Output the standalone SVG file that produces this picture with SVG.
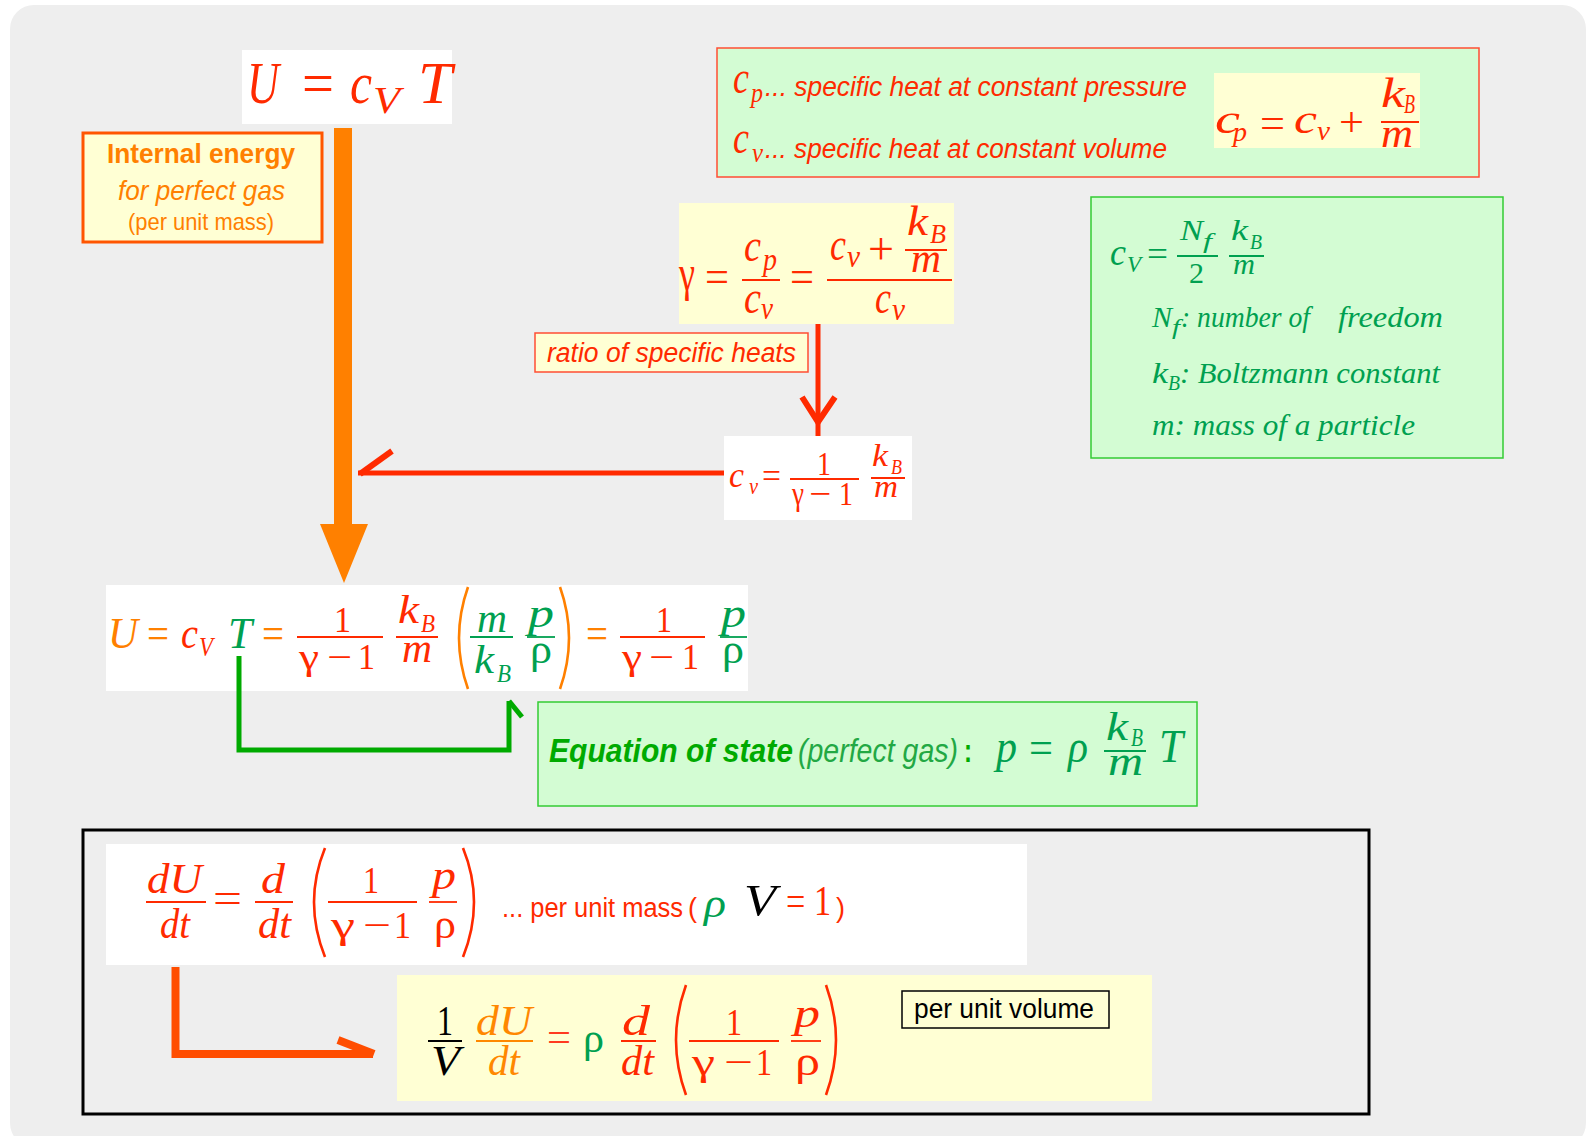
<svg xmlns="http://www.w3.org/2000/svg" width="1588" height="1136" viewBox="0 0 1588 1136">
<style>
.ser{font-family:"Times New Roman","Liberation Serif",Tinos,"Nimbus Roman",serif}
.it{font-style:italic}
.san{font-family:"Liberation Sans Narrow","Arial Narrow","Liberation Sans",Arial,sans-serif}
.r{fill:#ff2a00}.o{fill:#ff8000}.g{fill:#00a050}.gb{fill:#00aa00}.k{fill:#000}.o2{fill:#ff8800}
.yel{fill:#ffffd4}.grn{fill:#d3fcd3}.wht{fill:#fff}
.bar{stroke-width:1.8;fill:none}
.sr{stroke:#ff2a00}.so{stroke:#ff8000}.sg{stroke:#00a050}.sk{stroke:#000}.so2{stroke:#ff8800}
.par{fill:none;stroke-width:2.6}
</style>
<rect x="10" y="5" width="1576" height="1142" rx="24" fill="#eeeeee"/>

<g id="n-u-top">
  <rect x="242" y="50" width="210" height="74" class="wht"/>
  <text x="247" y="103" font-size="60" class="ser it r" textLength="32" lengthAdjust="spacingAndGlyphs">U</text>
  <text x="302" y="103" font-size="60" class="ser r" textLength="32" lengthAdjust="spacingAndGlyphs">=</text>
  <text x="350" y="103" font-size="60" class="ser it r" textLength="22" lengthAdjust="spacingAndGlyphs">c</text>
  <text x="373" y="113" font-size="38" class="ser it r" textLength="27" lengthAdjust="spacingAndGlyphs">V</text>
  <text x="418" y="103" font-size="60" class="ser it r" textLength="34" lengthAdjust="spacingAndGlyphs">T</text>
</g>

<g id="n-internal-energy">
  <rect x="83" y="133" width="239" height="109" class="yel" stroke="#ff5500" stroke-width="3"/>
  <text x="107" y="163" font-size="28" font-weight="bold" class="san o" textLength="188" lengthAdjust="spacingAndGlyphs">Internal energy</text>
  <text x="118" y="200" font-size="28" class="san it o" textLength="167" lengthAdjust="spacingAndGlyphs">for perfect gas</text>
  <text x="128" y="230" font-size="24" class="san o" textLength="146" lengthAdjust="spacingAndGlyphs">(per unit mass)</text>
</g>

<g id="n-cp-cv">
  <rect x="717" y="48" width="762" height="129" class="grn" stroke="#ff4d33" stroke-width="1.5"/>
  <text x="733" y="93" font-size="46" class="ser it r" textLength="16" lengthAdjust="spacingAndGlyphs">c</text>
  <text x="751" y="102" font-size="28" class="ser it r" textLength="12" lengthAdjust="spacingAndGlyphs">p</text>
  <text x="765" y="96" font-size="27" class="san it r" textLength="422" lengthAdjust="spacingAndGlyphs">... specific heat at constant pressure</text>
  <text x="733" y="153" font-size="46" class="ser it r" textLength="16" lengthAdjust="spacingAndGlyphs">c</text>
  <text x="752" y="162" font-size="28" class="ser it r" textLength="11" lengthAdjust="spacingAndGlyphs">v</text>
  <text x="765" y="158" font-size="27" class="san it r" textLength="402" lengthAdjust="spacingAndGlyphs">... specific heat at constant volume</text>
  <rect x="1214" y="73" width="206" height="75" class="yel"/>
  <text x="1215" y="133" font-size="42" class="ser it r" textLength="25" lengthAdjust="spacingAndGlyphs">c</text>
  <text x="1233" y="141" font-size="28" class="ser it r" textLength="14" lengthAdjust="spacingAndGlyphs">p</text>
  <text x="1260" y="137" font-size="42" class="ser r" textLength="25" lengthAdjust="spacingAndGlyphs">=</text>
  <text x="1294" y="133" font-size="42" class="ser it r" textLength="23" lengthAdjust="spacingAndGlyphs">c</text>
  <text x="1317" y="140" font-size="28" class="ser it r" textLength="13" lengthAdjust="spacingAndGlyphs">v</text>
  <text x="1339" y="136" font-size="42" class="ser r" textLength="25" lengthAdjust="spacingAndGlyphs">+</text>
  <line x1="1381" y1="122" x2="1419" y2="122" class="bar sr"/>
  <text x="1381" y="107" font-size="42" class="ser it r" textLength="24" lengthAdjust="spacingAndGlyphs">k</text>
  <text x="1404" y="113" font-size="28" class="ser it r" textLength="11" lengthAdjust="spacingAndGlyphs">B</text>
  <text x="1381" y="147" font-size="42" class="ser it r" textLength="32" lengthAdjust="spacingAndGlyphs">m</text>
</g>

<g id="n-gamma">
  <rect x="679" y="203" width="275" height="121" class="yel"/>
  <text x="679" y="290" font-size="50" class="ser r" textLength="16" lengthAdjust="spacingAndGlyphs">γ</text>
  <text x="705" y="292" font-size="46" class="ser r" textLength="24" lengthAdjust="spacingAndGlyphs">=</text>
  <text x="744" y="261" font-size="46" class="ser it r" textLength="17" lengthAdjust="spacingAndGlyphs">c</text>
  <text x="763" y="270" font-size="32" class="ser it r" textLength="14" lengthAdjust="spacingAndGlyphs">p</text>
  <line x1="742" y1="280" x2="780" y2="280" class="bar sr"/>
  <text x="744" y="313" font-size="46" class="ser it r" textLength="17" lengthAdjust="spacingAndGlyphs">c</text>
  <text x="761" y="319" font-size="32" class="ser it r" textLength="12" lengthAdjust="spacingAndGlyphs">v</text>
  <text x="790" y="292" font-size="46" class="ser r" textLength="24" lengthAdjust="spacingAndGlyphs">=</text>
  <line x1="827" y1="280" x2="952" y2="280" class="bar sr"/>
  <text x="830" y="260" font-size="46" class="ser it r" textLength="16" lengthAdjust="spacingAndGlyphs">c</text>
  <text x="847" y="267" font-size="32" class="ser it r" textLength="13" lengthAdjust="spacingAndGlyphs">v</text>
  <text x="868" y="264" font-size="46" class="ser r" textLength="26" lengthAdjust="spacingAndGlyphs">+</text>
  <line x1="905" y1="250" x2="947" y2="250" class="bar sr"/>
  <text x="907" y="235" font-size="42" class="ser it r" textLength="21" lengthAdjust="spacingAndGlyphs">k</text>
  <text x="930" y="243" font-size="28" class="ser it r" textLength="16" lengthAdjust="spacingAndGlyphs">B</text>
  <text x="911" y="272" font-size="42" class="ser it r" textLength="30" lengthAdjust="spacingAndGlyphs">m</text>
  <text x="875" y="313" font-size="46" class="ser it r" textLength="16" lengthAdjust="spacingAndGlyphs">c</text>
  <text x="892" y="320" font-size="32" class="ser it r" textLength="13" lengthAdjust="spacingAndGlyphs">v</text>
</g>

<g id="n-ratio-label">
  <rect x="535" y="333" width="273" height="39" class="yel" stroke="#ff4d33" stroke-width="1.5"/>
  <text x="547" y="362" font-size="27" class="san it r" textLength="249" lengthAdjust="spacingAndGlyphs">ratio of specific heats</text>
</g>

<g id="n-cv-gamma">
  <rect x="724" y="436" width="188" height="84" class="wht"/>
  <text x="729" y="487" font-size="36" class="ser it r" textLength="15" lengthAdjust="spacingAndGlyphs">c</text>
  <text x="749" y="494" font-size="24" class="ser it r" textLength="9" lengthAdjust="spacingAndGlyphs">v</text>
  <text x="762" y="488" font-size="36" class="ser r" textLength="19" lengthAdjust="spacingAndGlyphs">=</text>
  <line x1="790" y1="479" x2="859" y2="479" class="bar sr"/>
  <text x="817" y="475" font-size="34" class="ser r" textLength="14" lengthAdjust="spacingAndGlyphs">1</text>
  <text x="792" y="505" font-size="34" class="ser r" textLength="12" lengthAdjust="spacingAndGlyphs">γ</text>
  <text x="809" y="505" font-size="34" class="ser r" textLength="22" lengthAdjust="spacingAndGlyphs">−</text>
  <text x="839" y="505" font-size="34" class="ser r" textLength="14" lengthAdjust="spacingAndGlyphs">1</text>
  <line x1="871" y1="478" x2="905" y2="478" class="bar sr"/>
  <text x="872" y="466" font-size="32" class="ser it r" textLength="16" lengthAdjust="spacingAndGlyphs">k</text>
  <text x="891" y="474" font-size="22" class="ser it r" textLength="11" lengthAdjust="spacingAndGlyphs">B</text>
  <text x="874" y="497" font-size="32" class="ser it r" textLength="24" lengthAdjust="spacingAndGlyphs">m</text>
</g>

<g id="n-cv-nf">
  <rect x="1091" y="197" width="412" height="261" class="grn" stroke="#33cc33" stroke-width="1.5"/>
  <text x="1110" y="265" font-size="38" class="ser it g" textLength="16" lengthAdjust="spacingAndGlyphs">c</text>
  <text x="1127" y="272" font-size="24" class="ser it g" textLength="14" lengthAdjust="spacingAndGlyphs">V</text>
  <text x="1147" y="266" font-size="36" class="ser g" textLength="21" lengthAdjust="spacingAndGlyphs">=</text>
  <line x1="1177" y1="256" x2="1218" y2="256" class="bar sg"/>
  <text x="1180" y="240" font-size="30" class="ser it g" textLength="23" lengthAdjust="spacingAndGlyphs">N</text>
  <text x="1203" y="248" font-size="20" class="ser it g" textLength="9" lengthAdjust="spacingAndGlyphs">f</text>
  <text x="1189" y="283" font-size="30" class="ser g" textLength="15" lengthAdjust="spacingAndGlyphs">2</text>
  <line x1="1229" y1="256" x2="1264" y2="256" class="bar sg"/>
  <text x="1231" y="240" font-size="30" class="ser it g" textLength="17" lengthAdjust="spacingAndGlyphs">k</text>
  <text x="1250" y="249" font-size="20" class="ser it g" textLength="12" lengthAdjust="spacingAndGlyphs">B</text>
  <text x="1233" y="274" font-size="30" class="ser it g" textLength="22" lengthAdjust="spacingAndGlyphs">m</text>
  <text x="1152" y="327" font-size="29" class="ser it g" textLength="20" lengthAdjust="spacingAndGlyphs">N</text>
  <text x="1172" y="334" font-size="20" class="ser it g" textLength="8" lengthAdjust="spacingAndGlyphs">f</text>
  <text x="1181" y="327" font-size="29" class="ser it g" textLength="129" lengthAdjust="spacingAndGlyphs">: number of</text>
  <text x="1338" y="327" font-size="29" class="ser it g" textLength="105" lengthAdjust="spacingAndGlyphs">freedom</text>
  <text x="1152" y="383" font-size="29" class="ser it g" textLength="16" lengthAdjust="spacingAndGlyphs">k</text>
  <text x="1168" y="390" font-size="20" class="ser it g" textLength="12" lengthAdjust="spacingAndGlyphs">B</text>
  <text x="1180" y="383" font-size="29" class="ser it g" textLength="260" lengthAdjust="spacingAndGlyphs">: Boltzmann constant</text>
  <text x="1152" y="435" font-size="29" class="ser it g" textLength="263" lengthAdjust="spacingAndGlyphs">m: mass of  a particle</text>
</g>

<g id="n-u-main">
  <rect x="106" y="585" width="642" height="106" class="wht"/>
  <text x="108" y="648" font-size="44" class="ser it o" textLength="30" lengthAdjust="spacingAndGlyphs">U</text>
  <text x="147" y="648" font-size="44" class="ser o" textLength="22" lengthAdjust="spacingAndGlyphs">=</text>
  <text x="181" y="648" font-size="44" class="ser it r" textLength="17" lengthAdjust="spacingAndGlyphs">c</text>
  <text x="199" y="656" font-size="28" class="ser it r" textLength="14" lengthAdjust="spacingAndGlyphs">V</text>
  <text x="228" y="648" font-size="44" class="ser it g" textLength="24" lengthAdjust="spacingAndGlyphs">T</text>
  <text x="262" y="648" font-size="44" class="ser o" textLength="22" lengthAdjust="spacingAndGlyphs">=</text>
  <line x1="297" y1="637" x2="383" y2="637" class="bar sr"/>
  <text x="334" y="632" font-size="36" class="ser r" textLength="17" lengthAdjust="spacingAndGlyphs">1</text>
  <text x="299" y="669" font-size="36" class="ser r" textLength="20" lengthAdjust="spacingAndGlyphs">γ</text>
  <text x="327" y="669" font-size="36" class="ser r" textLength="25" lengthAdjust="spacingAndGlyphs">−</text>
  <text x="358" y="669" font-size="36" class="ser r" textLength="17" lengthAdjust="spacingAndGlyphs">1</text>
  <line x1="396" y1="637" x2="438" y2="637" class="bar sr"/>
  <text x="398" y="623" font-size="40" class="ser it r" textLength="21" lengthAdjust="spacingAndGlyphs">k</text>
  <text x="421" y="632" font-size="26" class="ser it r" textLength="14" lengthAdjust="spacingAndGlyphs">B</text>
  <text x="402" y="662" font-size="40" class="ser it r" textLength="30" lengthAdjust="spacingAndGlyphs">m</text>
  <path d="M468,587 Q450,638 468,689" class="par so"/>
  <line x1="470" y1="637" x2="513" y2="637" class="bar sg"/>
  <text x="477" y="632" font-size="40" class="ser it g" textLength="30" lengthAdjust="spacingAndGlyphs">m</text>
  <text x="474" y="673" font-size="40" class="ser it g" textLength="20" lengthAdjust="spacingAndGlyphs">k</text>
  <text x="497" y="682" font-size="26" class="ser it g" textLength="14" lengthAdjust="spacingAndGlyphs">B</text>
  <line x1="527" y1="637" x2="555" y2="637" class="bar sg"/>
  <text x="528" y="627" font-size="40" class="ser it g" textLength="26" lengthAdjust="spacingAndGlyphs">p</text>
  <text x="530" y="663" font-size="40" class="ser g" textLength="22" lengthAdjust="spacingAndGlyphs">ρ</text>
  <path d="M560,587 Q578,638 560,689" class="par so"/>
  <text x="586" y="648" font-size="44" class="ser o" textLength="22" lengthAdjust="spacingAndGlyphs">=</text>
  <line x1="620" y1="637" x2="705" y2="637" class="bar sr"/>
  <text x="656" y="632" font-size="36" class="ser r" textLength="16" lengthAdjust="spacingAndGlyphs">1</text>
  <text x="622" y="669" font-size="36" class="ser r" textLength="20" lengthAdjust="spacingAndGlyphs">γ</text>
  <text x="649" y="669" font-size="36" class="ser r" textLength="25" lengthAdjust="spacingAndGlyphs">−</text>
  <text x="682" y="669" font-size="36" class="ser r" textLength="17" lengthAdjust="spacingAndGlyphs">1</text>
  <line x1="720" y1="637" x2="747" y2="637" class="bar sg"/>
  <text x="721" y="627" font-size="40" class="ser it g" textLength="25" lengthAdjust="spacingAndGlyphs">p</text>
  <text x="722" y="663" font-size="40" class="ser g" textLength="22" lengthAdjust="spacingAndGlyphs">ρ</text>
</g>

<g id="n-eos">
  <rect x="538" y="702" width="659" height="104" class="grn" stroke="#33cc33" stroke-width="1.5"/>
  <text x="549" y="762" font-size="34" font-weight="bold" class="san it gb" textLength="244" lengthAdjust="spacingAndGlyphs">Equation of state</text>
  <text x="798" y="762" font-size="34" class="san it" fill="#22a844" textLength="160" lengthAdjust="spacingAndGlyphs">(perfect gas)</text>
  <text x="964" y="762" font-size="34" font-weight="bold" class="san gb" textLength="8" lengthAdjust="spacingAndGlyphs">:</text>
  <text x="996" y="762" font-size="46" class="ser it g" textLength="21" lengthAdjust="spacingAndGlyphs">p</text>
  <text x="1029" y="763" font-size="46" class="ser g" textLength="24" lengthAdjust="spacingAndGlyphs">=</text>
  <text x="1068" y="762" font-size="46" class="ser it g" textLength="20" lengthAdjust="spacingAndGlyphs">ρ</text>
  <line x1="1104" y1="751" x2="1146" y2="751" class="bar sg"/>
  <text x="1106" y="740" font-size="40" class="ser it g" textLength="22" lengthAdjust="spacingAndGlyphs">k</text>
  <text x="1131" y="746" font-size="26" class="ser it g" textLength="12" lengthAdjust="spacingAndGlyphs">B</text>
  <text x="1108" y="775" font-size="40" class="ser it g" textLength="35" lengthAdjust="spacingAndGlyphs">m</text>
  <text x="1159" y="762" font-size="46" class="ser it g" textLength="24" lengthAdjust="spacingAndGlyphs">T</text>
</g>

<g id="n-bottom-frame">
  <rect x="83" y="830" width="1286" height="284" fill="none" stroke="#000" stroke-width="3"/>
</g>

<g id="n-du-mass">
  <rect x="106" y="844" width="921" height="121" class="wht"/>
  <text x="147" y="893" font-size="42" class="ser it r" textLength="55" lengthAdjust="spacingAndGlyphs">dU</text>
  <line x1="146" y1="902" x2="206" y2="902" class="bar sr"/>
  <text x="160" y="938" font-size="42" class="ser it r" textLength="30" lengthAdjust="spacingAndGlyphs">dt</text>
  <text x="213" y="912" font-size="42" class="ser r" textLength="29" lengthAdjust="spacingAndGlyphs">=</text>
  <text x="261" y="893" font-size="42" class="ser it r" textLength="24" lengthAdjust="spacingAndGlyphs">d</text>
  <line x1="255" y1="902" x2="293" y2="902" class="bar sr"/>
  <text x="258" y="938" font-size="42" class="ser it r" textLength="33" lengthAdjust="spacingAndGlyphs">dt</text>
  <path d="M325,848 Q303,902 325,957" class="par sr"/>
  <text x="363" y="893" font-size="38" class="ser r" textLength="16" lengthAdjust="spacingAndGlyphs">1</text>
  <line x1="328" y1="902" x2="417" y2="902" class="bar sr"/>
  <text x="331" y="938" font-size="38" class="ser r" textLength="24" lengthAdjust="spacingAndGlyphs">γ</text>
  <text x="363" y="938" font-size="38" class="ser r" textLength="28" lengthAdjust="spacingAndGlyphs">−</text>
  <text x="394" y="938" font-size="38" class="ser r" textLength="17" lengthAdjust="spacingAndGlyphs">1</text>
  <line x1="429" y1="902" x2="457" y2="902" class="bar sr"/>
  <text x="432" y="889" font-size="40" class="ser it r" textLength="24" lengthAdjust="spacingAndGlyphs">p</text>
  <text x="434" y="938" font-size="40" class="ser r" textLength="22" lengthAdjust="spacingAndGlyphs">ρ</text>
  <path d="M463,848 Q485,902 463,957" class="par sr"/>
  <text x="502" y="917" font-size="27" class="san r" textLength="181" lengthAdjust="spacingAndGlyphs">... per unit mass</text>
  <text x="688" y="917" font-size="27" class="san r" textLength="9" lengthAdjust="spacingAndGlyphs">(</text>
  <text x="704" y="917" font-size="40" class="ser it g" textLength="22" lengthAdjust="spacingAndGlyphs">ρ</text>
  <text x="744" y="915" font-size="44" class="ser it k" textLength="32" lengthAdjust="spacingAndGlyphs">V</text>
  <text x="786" y="915" font-size="42" class="ser r" textLength="45" lengthAdjust="spacingAndGlyphs">= 1</text>
  <text x="836" y="917" font-size="27" class="san r" textLength="9" lengthAdjust="spacingAndGlyphs">)</text>
</g>

<g id="n-du-volume">
  <rect x="397" y="975" width="755" height="126" class="yel"/>
  <text x="437" y="1035" font-size="42" class="ser k" textLength="16" lengthAdjust="spacingAndGlyphs">1</text>
  <line x1="428" y1="1041" x2="462" y2="1041" class="bar sk"/>
  <text x="431" y="1075" font-size="42" class="ser it k" textLength="29" lengthAdjust="spacingAndGlyphs">V</text>
  <text x="476" y="1035" font-size="42" class="ser it o2" textLength="56" lengthAdjust="spacingAndGlyphs">dU</text>
  <line x1="476" y1="1041" x2="533" y2="1041" class="bar so2"/>
  <text x="488" y="1075" font-size="42" class="ser it o2" textLength="32" lengthAdjust="spacingAndGlyphs">dt</text>
  <text x="547" y="1051" font-size="42" class="ser" fill="#ff3a20" textLength="24" lengthAdjust="spacingAndGlyphs">=</text>
  <text x="583" y="1052" font-size="42" class="ser g" textLength="21" lengthAdjust="spacingAndGlyphs">ρ</text>
  <text x="622" y="1035" font-size="42" class="ser it r" textLength="28" lengthAdjust="spacingAndGlyphs">d</text>
  <line x1="621" y1="1041" x2="656" y2="1041" class="bar sr"/>
  <text x="621" y="1075" font-size="42" class="ser it r" textLength="33" lengthAdjust="spacingAndGlyphs">dt</text>
  <path d="M686,985 Q666,1040 686,1095" class="par sr"/>
  <text x="726" y="1035" font-size="38" class="ser r" textLength="16" lengthAdjust="spacingAndGlyphs">1</text>
  <line x1="689" y1="1041" x2="779" y2="1041" class="bar sr"/>
  <text x="692" y="1075" font-size="38" class="ser r" textLength="23" lengthAdjust="spacingAndGlyphs">γ</text>
  <text x="724" y="1075" font-size="38" class="ser r" textLength="29" lengthAdjust="spacingAndGlyphs">−</text>
  <text x="756" y="1075" font-size="38" class="ser r" textLength="16" lengthAdjust="spacingAndGlyphs">1</text>
  <line x1="791" y1="1041" x2="821" y2="1041" class="bar sr"/>
  <text x="794" y="1027" font-size="40" class="ser it r" textLength="26" lengthAdjust="spacingAndGlyphs">p</text>
  <text x="795" y="1075" font-size="40" class="ser r" textLength="25" lengthAdjust="spacingAndGlyphs">ρ</text>
  <path d="M826,985 Q846,1040 826,1095" class="par sr"/>
</g>

<g id="n-per-volume">
  <rect x="902" y="991" width="207" height="37" class="yel" stroke="#000" stroke-width="1.5"/>
  <text x="914" y="1018" font-size="27" class="san k" textLength="180" lengthAdjust="spacingAndGlyphs">per unit volume</text>
</g>

<g id="connectors">
  <rect x="334" y="128" width="18" height="398" fill="#ff8000"/>
  <polygon points="320,524 368,524 344,583" fill="#ff8000"/>
  <line x1="818" y1="324" x2="818" y2="436" stroke="#ff2a00" stroke-width="5"/>
  <polyline points="802,397 818,422 835,397" fill="none" stroke="#ff2a00" stroke-width="6"/>
  <line x1="724" y1="473" x2="358" y2="473" stroke="#ff2a00" stroke-width="5"/>
  <line x1="360" y1="474" x2="392" y2="451" stroke="#ff2a00" stroke-width="6"/>
  <path d="M239,656 V750 H509 V701" fill="none" stroke="#00aa00" stroke-width="5"/>
  <line x1="509" y1="701" x2="522" y2="717" stroke="#00aa00" stroke-width="5"/>
  <path d="M175.5,967 V1054 H373" fill="none" stroke="#ff4d00" stroke-width="8"/>
  <line x1="338" y1="1040" x2="374" y2="1054" stroke="#ff4d00" stroke-width="8"/>
</g>
</svg>
